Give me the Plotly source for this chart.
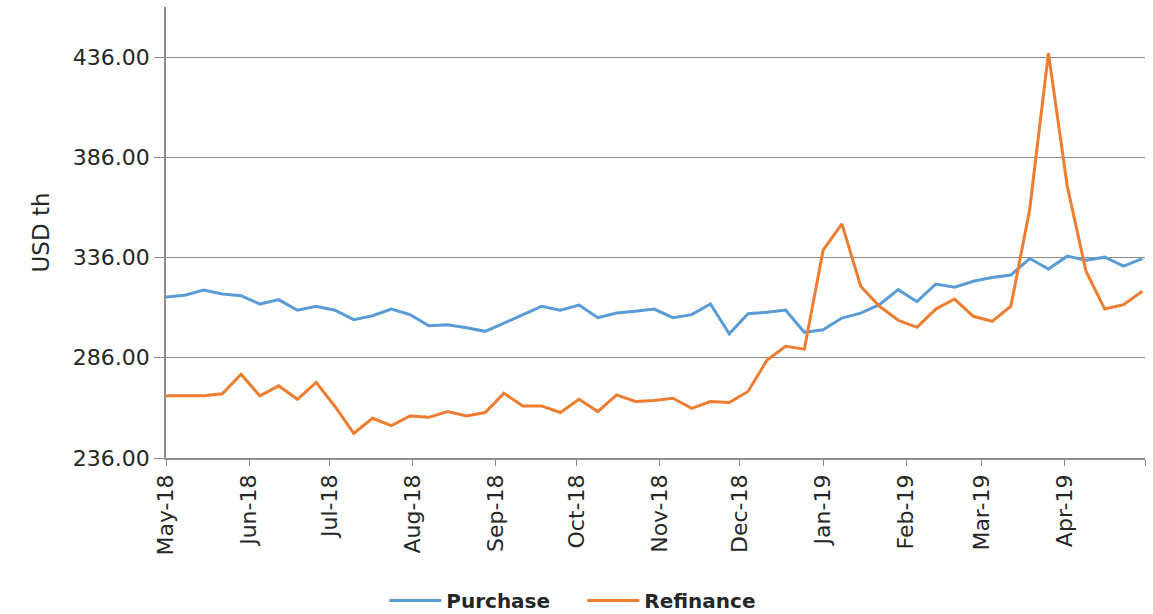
import pandas as pd
import plotly.graph_objects as go

# Weekly observations, May 2018 - April 2019 (USD thousands)
week_start = "2018-05-01"
n_weeks = 53

purchase = [
    316.3, 317.2, 319.8, 317.8, 317.0, 312.8, 315.0, 309.7, 311.7, 309.7,
    305.0, 307.0, 310.3, 307.5, 302.0, 302.5, 301.0, 299.2, 303.3, 307.5,
    311.7, 309.7, 312.3, 306.0, 308.3, 309.2, 310.3, 306.0, 307.5, 312.8,
    298.0, 308.0, 308.7, 309.8, 298.7, 300.0, 305.8, 308.3, 312.5, 320.0,
    314.0, 322.8, 321.2, 324.2, 326.0, 327.3, 335.5, 330.3, 336.7, 334.7,
    336.2, 331.7, 335.5,
]

refinance = [
    267.0, 267.0, 267.0, 268.0, 277.8, 267.0, 272.0, 265.3, 273.7, 261.7,
    248.3, 255.8, 252.2, 257.0, 256.3, 259.2, 257.0, 258.7, 268.3, 262.0,
    262.0, 258.7, 265.3, 259.2, 267.5, 264.2, 264.7, 265.8, 260.8, 264.2,
    263.7, 269.2, 284.7, 291.7, 290.3, 339.7, 352.8, 321.7, 311.7, 304.7,
    301.2, 310.3, 315.3, 306.7, 304.2, 311.7, 360.0, 438.0, 371.7, 329.2,
    310.3, 312.5, 319.2,
]

month_ticks = pd.date_range("2018-05-01", "2019-05-01", freq="MS")
month_labels = [d.strftime("%b-%y") for d in month_ticks[:-1]] + [""]
y_ticks = [236, 286, 336, 386, 436]

dates = pd.date_range(week_start, periods=n_weeks, freq="7D")

BLUE = "#5B9BD5"
ORANGE = "#ED7D31"
AXIS = "#8C8C8C"
TEXT = "#262626"
FONT = "DejaVu Sans"

fig = go.Figure()
fig.add_trace(go.Scatter(x=dates, y=purchase, mode="lines", name="Purchase",
                         line=dict(color=BLUE, width=3)))
fig.add_trace(go.Scatter(x=dates, y=refinance, mode="lines", name="Refinance",
                         line=dict(color=ORANGE, width=3)))

fig.update_layout(
    width=1153, height=614,
    margin=dict(l=166, r=8, t=7, b=156),
    paper_bgcolor="white", plot_bgcolor="white",
    font=dict(family=FONT, color=TEXT),
    showlegend=True,
    legend=dict(orientation="h", xref="container", x=0.505, xanchor="center",
                yref="container", y=0.022, yanchor="middle",
                font=dict(size=20, family=FONT, color=TEXT, weight="bold"),
                itemwidth=52, entrywidth=131, tracegroupgap=0),
)

fig.update_xaxes(
    type="date",
    range=[month_ticks[0], month_ticks[-1]],
    tickmode="array", tickvals=month_ticks, ticktext=month_labels,
    tickangle=-90, tickfont=dict(size=22, family=FONT, color=TEXT),
    ticks="outside", ticklen=6, tickcolor=AXIS,
    showline=True, linecolor=AXIS, linewidth=1.5,
    showgrid=False, zeroline=False, automargin=False,
)

fig.update_yaxes(
    range=[236, 461],
    tickmode="array", tickvals=y_ticks, ticktext=[f"{v:.2f}" for v in y_ticks],
    tickfont=dict(size=22, family=FONT, color=TEXT),
    ticks="outside", ticklen=10, tickcolor=AXIS,
    showline=True, linecolor=AXIS, linewidth=1.5,
    showgrid=True, gridcolor=AXIS, gridwidth=1.2,
    zeroline=False, automargin=False,
    title=dict(text="USD th", font=dict(size=23, family=FONT, color=TEXT), standoff=17),
)

fig.write_html("out.html")
